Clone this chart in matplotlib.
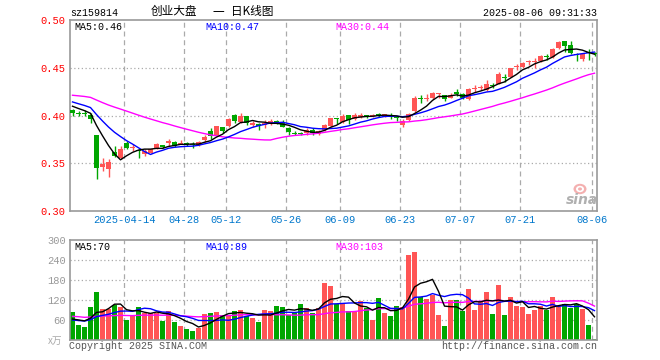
import numpy as np
import matplotlib
matplotlib.use("Agg")
import matplotlib.pyplot as plt
from matplotlib.patches import Ellipse

# daily K data, 2025-03-31 .. 2025-08-06
opens = [0.406, 0.403, 0.403, 0.401, 0.380, 0.346, 0.344, 0.362, 0.355, 0.371,
         0.366, 0.364, 0.360, 0.361, 0.366, 0.369, 0.371, 0.372, 0.370, 0.371,
         0.370, 0.369, 0.374, 0.384, 0.380, 0.388, 0.389, 0.400, 0.393, 0.399,
         0.390, 0.391, 0.390, 0.392, 0.394, 0.392, 0.387, 0.382, 0.382, 0.382,
         0.385, 0.381, 0.385, 0.389, 0.397, 0.393, 0.400, 0.396, 0.398, 0.400,
         0.399, 0.402, 0.398, 0.401, 0.398, 0.390, 0.395, 0.405, 0.418, 0.417,
         0.418, 0.423, 0.421, 0.418, 0.425, 0.422, 0.417, 0.428, 0.429, 0.427,
         0.432, 0.433, 0.440, 0.440, 0.451, 0.451, 0.456, 0.456, 0.457, 0.462,
         0.461, 0.471, 0.478, 0.474, 0.464, 0.459, 0.466, 0.465]
highs = [0.407, 0.405, 0.406, 0.403, 0.380, 0.356, 0.354, 0.368, 0.368, 0.373,
         0.370, 0.365, 0.365, 0.365, 0.371, 0.369, 0.375, 0.373, 0.374, 0.372,
         0.372, 0.373, 0.380, 0.387, 0.389, 0.388, 0.397, 0.402, 0.403, 0.399,
         0.394, 0.392, 0.395, 0.396, 0.395, 0.395, 0.388, 0.384, 0.383, 0.387,
         0.387, 0.385, 0.391, 0.397, 0.397, 0.402, 0.401, 0.403, 0.403, 0.401,
         0.402, 0.403, 0.402, 0.403, 0.398, 0.396, 0.403, 0.420, 0.421, 0.422,
         0.425, 0.424, 0.421, 0.424, 0.428, 0.424, 0.429, 0.432, 0.432, 0.437,
         0.434, 0.446, 0.443, 0.450, 0.454, 0.456, 0.458, 0.460, 0.463, 0.464,
         0.471, 0.478, 0.478, 0.478, 0.465, 0.464, 0.470, 0.466]
lows = [0.400, 0.400, 0.400, 0.392, 0.333, 0.342, 0.336, 0.357, 0.354, 0.365,
        0.363, 0.355, 0.358, 0.361, 0.365, 0.366, 0.368, 0.367, 0.370, 0.368,
        0.366, 0.368, 0.372, 0.375, 0.380, 0.382, 0.388, 0.392, 0.392, 0.390,
        0.388, 0.385, 0.387, 0.390, 0.391, 0.388, 0.380, 0.380, 0.380, 0.380,
        0.380, 0.380, 0.384, 0.388, 0.391, 0.392, 0.391, 0.395, 0.397, 0.397,
        0.398, 0.398, 0.398, 0.396, 0.394, 0.388, 0.394, 0.404, 0.413, 0.415,
        0.417, 0.418, 0.415, 0.418, 0.420, 0.417, 0.416, 0.425, 0.427, 0.426,
        0.429, 0.433, 0.435, 0.440, 0.448, 0.450, 0.453, 0.450, 0.456, 0.458,
        0.460, 0.470, 0.467, 0.464, 0.457, 0.457, 0.458, 0.462]
closes = [0.403, 0.402, 0.402, 0.396, 0.345, 0.349, 0.351, 0.358, 0.365, 0.366,
          0.367, 0.363, 0.363, 0.365, 0.370, 0.367, 0.373, 0.368, 0.371, 0.370,
          0.369, 0.372, 0.378, 0.379, 0.389, 0.384, 0.396, 0.394, 0.400, 0.392,
          0.392, 0.389, 0.392, 0.394, 0.392, 0.388, 0.383, 0.381, 0.381, 0.385,
          0.382, 0.384, 0.390, 0.397, 0.396, 0.400, 0.395, 0.400, 0.401, 0.399,
          0.401, 0.399, 0.402, 0.399, 0.397, 0.394, 0.402, 0.418, 0.417, 0.418,
          0.424, 0.423, 0.417, 0.421, 0.423, 0.418, 0.428, 0.429, 0.430, 0.433,
          0.431, 0.443, 0.439, 0.450, 0.452, 0.455, 0.456, 0.457, 0.462, 0.461,
          0.470, 0.477, 0.473, 0.465, 0.463, 0.464, 0.465, 0.464]
# volume, 万手
volumes = [85, 46, 40, 98, 145, 94, 94, 106, 100, 61, 76, 98, 82, 82, 82, 58, 88, 55,
           43, 34, 28, 35, 79, 82, 85, 75, 75, 88, 91, 73, 67, 55, 91, 88, 103, 100,
           76, 81, 109, 97, 82, 97, 172, 163, 109, 111, 88, 85, 117, 97, 61, 127, 82,
           73, 101, 100, 256, 265, 129, 124, 136, 76, 43, 121, 121, 88, 154, 91, 118,
           145, 79, 166, 76, 130, 103, 100, 79, 91, 103, 91, 130, 100, 109, 97, 109,
           94, 46, 2]
# closes / volumes of the 29 sessions before the window (for the moving averages)
prev_closes = [0.420, 0.422, 0.425, 0.428, 0.430, 0.427, 0.424, 0.426, 0.429, 0.431,
               0.428, 0.425, 0.423, 0.426, 0.424, 0.422, 0.424, 0.423, 0.420, 0.417,
               0.421, 0.420, 0.418, 0.418, 0.4165, 0.414, 0.413, 0.410, 0.4085]
prev_volumes = [80, 95, 70, 85, 72, 66, 90, 78, 74, 88, 70, 65, 82, 76, 71, 79, 68, 75,
                80, 66, 62, 55, 58, 52, 58, 60, 54, 58, 58]

tick_idx = [9, 19, 26, 36, 45, 55, 65, 75, 87]
tick_labels = ["2025-04-14", "04-28", "05-12", "05-26", "06-09", "06-23", "07-07", "07-21", "08-06"]
price_ticks = [0.30, 0.35, 0.40, 0.45, 0.50]
vol_ticks = [60, 120, 180, 240, 300]

RED = "#ff5555"
GREEN = "#00a600"
GRID = "#aaaaaa"
MONO = "Liberation Mono"
CJK = ["Noto Sans CJK SC", "DejaVu Sans"]
FS = 7.2
W, H = 660, 360


def rolling(prev, cur, n):
	allv = np.array(list(prev) + list(cur), dtype=float)
	out = np.convolve(allv, np.ones(n) / n, mode="valid")
	return out[-len(cur):]


def px_text(fig, x, y, s, **kw):
	kw.setdefault("family", MONO)
	kw.setdefault("fontsize", FS)
	kw.setdefault("va", "center")
	fig.text(x / W, 1 - y / H, s, **kw)


def style_axis(ax):
	for sp in ax.spines.values():
		sp.set_color("#999999")
		sp.set_linewidth(1.2)
	ax.set_xlim(0, 527 / 6)
	for t in tick_idx:
		ax.axvline(t, color=GRID, linestyle=(0, (4, 3)), linewidth=0.9, zorder=0)
	ax.set_xticks([])
	ax.tick_params(axis="y", length=0, pad=3)


fig = plt.figure(figsize=(W / 100, H / 100), dpi=100)
fig.patch.set_facecolor("white")

n = len(closes)
xc = np.arange(n) + 5 / 12
bw = 5 / 6
o = np.array(opens)
c = np.array(closes)
colors = np.where(c >= o, RED, GREEN)

# sina watermark (drawn under the price panel)
for r, col in [(13, "#f4b0b0"), (8, "white"), (4, "#f4b0b0")]:
	fig.patches.append(Ellipse((580 / W, 1 - 189 / H), r / W, r * 0.8 / H,
		transform=fig.transFigure, facecolor=col, edgecolor="none", zorder=0))
px_text(fig, 582, 200, "sina", family="DejaVu Sans", fontsize=10, fontweight="bold",
	style="italic", ha="center", color="#b0b0b0")

# price panel
ax = fig.add_axes([70 / W, 1 - 211 / H, 527 / W, 191 / H])
ax.patch.set_alpha(0)
style_axis(ax)
ax.set_ylim(0.30, 0.50)
for p in [0.35, 0.40, 0.45]:
	ax.axhline(p, color=GRID, linestyle=(0, (1, 2)), linewidth=0.9, zorder=0)
ax.set_yticks(price_ticks)
ax.set_yticklabels([f"{p:.2f}" for p in price_ticks], color="red", family=MONO, fontsize=FS + 0.3)
ax.vlines(xc, lows, highs, colors=colors, linewidth=1, zorder=2)
body = np.maximum(np.abs(c - o), 0.0007)
ax.bar(xc, body, bottom=np.minimum(o, c), width=bw, color=colors, linewidth=0, zorder=3)

ma5 = rolling(prev_closes, closes, 5)
ma10 = rolling(prev_closes, closes, 10)
ma30 = rolling(prev_closes, closes, 30)
ax.plot(xc, ma30, color="#ff00ff", linewidth=1, zorder=4)
ax.plot(xc, ma10, color="#0000ff", linewidth=1, zorder=4)
ax.plot(xc, ma5, color="black", linewidth=1, zorder=4)

for t, lab in zip(tick_idx, tick_labels):
	ax.text(t, 0.2955, lab, color="#0077cc", family=MONO, fontsize=FS + 0.3, ha="center",
		va="top", clip_on=False)

# volume panel
axv = fig.add_axes([70 / W, 1 - 340 / H, 527 / W, 100 / H])
style_axis(axv)
axv.set_ylim(0, 300)
for v in [60, 120, 180, 240]:
	axv.axhline(v, color=GRID, linestyle=(0, (1, 2)), linewidth=0.9, zorder=0)
axv.set_yticks(vol_ticks)
axv.set_yticklabels([str(v) for v in vol_ticks], color="#999999", family=MONO, fontsize=FS + 0.3)
axv.bar(xc, volumes, width=bw, color=colors, linewidth=0, zorder=2)
vma5 = rolling(prev_volumes, volumes, 5)
vma10 = rolling(prev_volumes, volumes, 10)
vma30 = rolling(prev_volumes, volumes, 30)
axv.plot(xc, vma30, color="#ff00ff", linewidth=1, zorder=4)
axv.plot(xc, vma10, color="#0000ff", linewidth=1, zorder=4)
axv.plot(xc, vma5, color="black", linewidth=1, zorder=4)

# header texts
px_text(fig, 70, 13, "sz159814")
px_text(fig, 151, 12, "创业大盘", family=CJK, fontsize=8.4)
px_text(fig, 218, 12, "一", family=CJK, fontsize=8.4, ha="center")
px_text(fig, 231, 12, "日K线图", family=CJK, fontsize=8.4)
px_text(fig, 597, 13, "2025-08-06 09:31:33", ha="right")

px_text(fig, 74, 27, "MA5:0.46", color="black")
px_text(fig, 205, 27, "MA10:0.47", color="#0000ff")
px_text(fig, 335, 27, "MA30:0.44", color="#ff00ff")

px_text(fig, 74, 247, "MA5:70", color="black")
px_text(fig, 205, 247, "MA10:89", color="#0000ff")
px_text(fig, 335, 247, "MA30:103", color="#ff00ff")

px_text(fig, 48, 341, "x万", family=CJK, fontsize=7, color="#aaaaaa", style="italic")
px_text(fig, 69, 346, "Copyright 2025 SINA.COM", color="#555555")
px_text(fig, 597, 346, "http://finance.sina.com.cn", ha="right", color="#555555")

fig.savefig("out.png", dpi=100, facecolor="white")
